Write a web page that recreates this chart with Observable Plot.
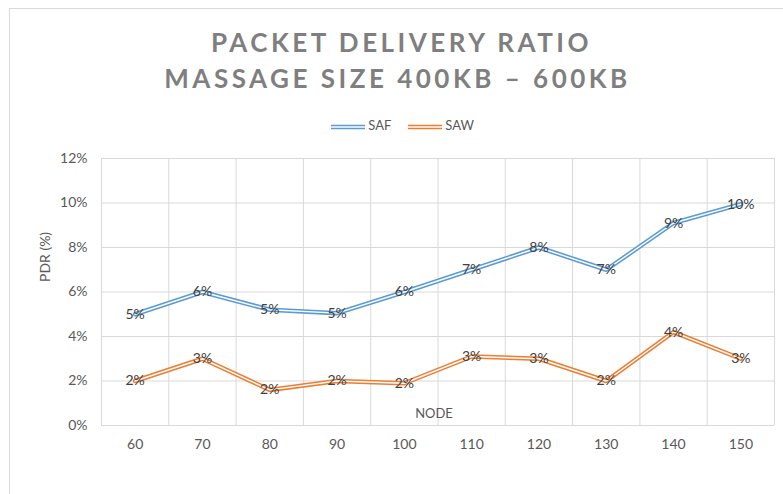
<!DOCTYPE html>
<html><head><meta charset="utf-8">
<script src="https://cdn.jsdelivr.net/npm/d3@7"></script>
<script src="https://cdn.jsdelivr.net/npm/@observablehq/plot@0.6"></script>
<style>
body{margin:0;background:#fff;font-family:Lato,"Open Sans",sans-serif;}
#wrap{position:relative;width:783px;height:494px;overflow:hidden;}
#border{position:absolute;left:9px;top:8px;width:800px;height:600px;border:1px solid #d9d9d9;box-sizing:border-box;}
#title{position:absolute;left:6px;top:24px;width:783px;text-align:center;color:#7f7f7f;font-weight:bold;font-size:26px;letter-spacing:3.5px;line-height:36px;}
#title span{display:block;}
#legend{position:absolute;top:116px;left:0;width:783px;height:18px;font-size:13px;color:#595959;}
.li{position:absolute;top:0;height:18px;line-height:18px;}
.li svg{vertical-align:middle;}
#chart{position:absolute;left:0;top:0;}
</style></head>
<body>
<div id="wrap">
<div id="border"></div>
<div id="chart"></div>
<div id="title"><span style="margin-left:8px">PACKET DELIVERY RATIO</span><span>MASSAGE SIZE 400KB – 600KB</span></div>
<div id="legend"></div>
</div>
<script>
const nodes = [60, 70, 80, 90, 100, 110, 120, 130, 140, 150];
const saf = [5.0, 6.0, 5.2, 5.05, 6.0, 7.0, 8.0, 7.0, 9.1, 9.95];
const saw = [2.0, 3.0, 1.6, 2.0, 1.9, 3.1, 3.0, 2.0, 4.2, 3.0];
const yTicks = [0, 2, 4, 6, 8, 10, 12];
const seriesNames = ["SAF", "SAW"];
const colors = ["#5b9bd5", "#ed7d31"];

const safData = nodes.map((n, i) => ({node: n, v: saf[i]}));
const sawData = nodes.map((n, i) => ({node: n, v: saw[i]}));
const bounds = nodes.map(n => n - 5).concat([nodes[nodes.length - 1] + 5]);

function doubleLine(data, color) {
  return [
    Plot.line(data, {x: "node", y: "v", stroke: color, strokeWidth: 4.5, strokeLinejoin: "round"}),
    Plot.line(data, {x: "node", y: "v", stroke: "#fff", strokeWidth: 1.4, strokeLinejoin: "round"})
  ];
}
function labels(data) {
  return Plot.text(data, {x: "node", y: "v", text: d => Math.round(d.v) + "%", fill: "#404040", fontSize: 14});
}

const chart = Plot.plot({
  width: 783, height: 494,
  marginLeft: 101, marginRight: 9, marginTop: 158, marginBottom: 69,
  style: {fontFamily: "Lato, 'Open Sans', sans-serif", fontSize: "14px", color: "#595959", background: "transparent"},
  x: {domain: [55, 155], axis: null},
  y: {domain: [0, 12], axis: null},
  marks: [
    Plot.ruleY(yTicks, {stroke: "#d9d9d9", strokeWidth: 1}),
    Plot.ruleX(bounds, {stroke: "#d9d9d9", strokeWidth: 1}),
    Plot.axisY({ticks: yTicks, tickSize: 0, tickPadding: 14, tickFormat: d => d + "%", label: null, fontSize: 14}),
    Plot.axisX({ticks: nodes, tickSize: 0, tickPadding: 14, tickFormat: d => String(d), label: null, fontSize: 14}),
    Plot.text(["PDR (%)"], {frameAnchor: "left", dx: -56, dy: -10, rotate: -90, fill: "#595959", fontSize: 14}),
    Plot.text(["NODE"], {frameAnchor: "bottom", dx: -4, dy: -8, fill: "#595959", fontSize: 13}),
    ...doubleLine(safData, colors[0]),
    ...doubleLine(sawData, colors[1]),
    labels(safData),
    labels(sawData)
  ]
});
document.getElementById("chart").appendChild(chart);

const legend = document.getElementById("legend");
const pos = [331, 408];
seriesNames.forEach((name, i) => {
  const el = document.createElement("div");
  el.className = "li";
  el.style.left = pos[i] + "px";
  el.innerHTML = `<svg width="34" height="8"><line x1="0" x2="34" y1="4" y2="4" stroke="${colors[i]}" stroke-width="4.5"/><line x1="0" x2="34" y1="4" y2="4" stroke="#fff" stroke-width="1.4"/></svg> ${name}`;
  legend.appendChild(el);
});
</script>
</body></html>
